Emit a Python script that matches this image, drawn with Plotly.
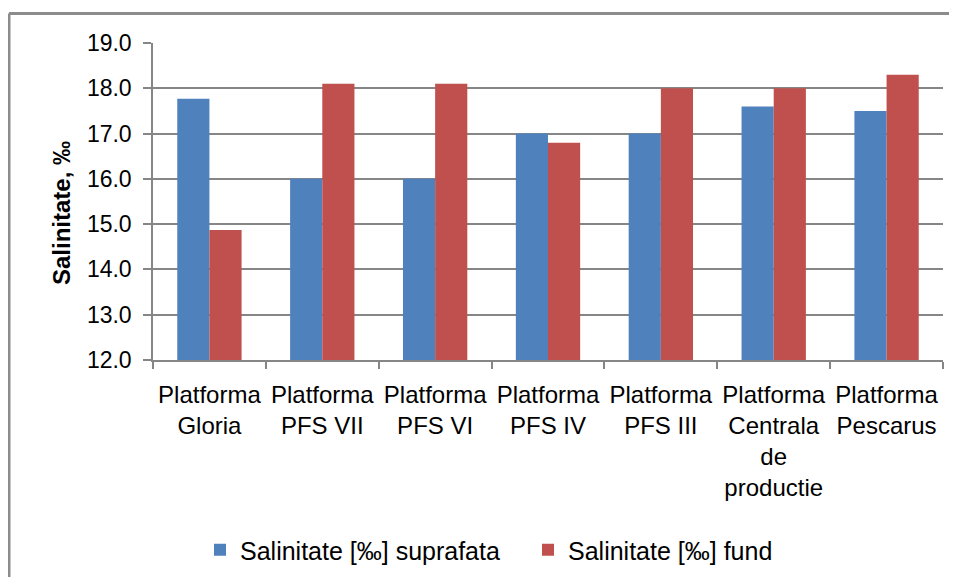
import plotly.graph_objects as go

categories = ["Platforma<br>Gloria", "Platforma<br>PFS VII", "Platforma<br>PFS VI",
              "Platforma<br>PFS IV", "Platforma<br>PFS III",
              "Platforma<br>Centrala<br>de<br>productie", "Platforma<br>Pescarus"]
suprafata = [17.77, 16.0, 16.0, 17.0, 17.0, 17.6, 17.5]
fund = [14.87, 18.1, 18.1, 16.8, 18.0, 18.0, 18.3]
series_names = ["Salinitate [‰] suprafata", "Salinitate [‰] fund"]
y_ticks = [12, 13, 14, 15, 16, 17, 18, 19]

# page has an 8px body margin; figure coords = reference coords - 8
OFF = 8
W, H = 941, 569
L, T = 153 - OFF, 43 - OFF
R = W - (943 - OFF)
B = H - (360 - OFF)
pw, ph = W - L - R, H - T - B

def px(x):
    return (x - OFF - L) / pw

def py(y):
    return (H - B - (y - OFF)) / ph

fig = go.Figure()
fig.add_trace(go.Bar(x=categories, y=suprafata, name=series_names[0],
                     marker=dict(color="#4F81BD", line=dict(width=0))))
fig.add_trace(go.Bar(x=categories, y=fund, name=series_names[1],
                     marker=dict(color="#C0504D", line=dict(width=0))))

grey = "#868686"
frame = "#8c8c8c"
fig.update_layout(
    width=W, height=H,
    margin=dict(l=L, r=R, t=T, b=B, autoexpand=False),
    paper_bgcolor="white", plot_bgcolor="white",
    barmode="group", bargap=0.43, bargroupgap=0,
    font=dict(family="Liberation Sans, Arial, sans-serif", color="black"),
    showlegend=True,
    legend=dict(orientation="h", x=px(200), y=py(550), xanchor="left", yanchor="middle",
                font=dict(size=25), entrywidth=283, entrywidthmode="pixels",
                bgcolor="rgba(0,0,0,0)"),
    xaxis=dict(type="category", showline=True, linecolor=grey, linewidth=2,
               ticks="outside", tickson="boundaries", ticklen=7, tickcolor=grey,
               tickwidth=1.5, tickfont=dict(size=24), tickangle=0, showgrid=False,
               ticklabelstandoff=12),
    yaxis=dict(range=[12, 19], tickvals=y_ticks, tickformat=".1f",
               showline=True, linecolor=grey, linewidth=1.5,
               ticks="outside", ticklen=8, tickcolor=grey, tickwidth=1.5,
               showgrid=True, gridcolor=grey, gridwidth=1.5,
               tickfont=dict(size=23), zeroline=False, ticklabelstandoff=7),
    shapes=[
        dict(type="line", xref="paper", yref="paper",
             x0=px(9), x1=px(1000), y0=py(13.5), y1=py(13.5),
             line=dict(color=frame, width=3), layer="below"),
        dict(type="line", xref="paper", yref="paper",
             x0=px(9), x1=px(9), y0=py(13.5), y1=py(620),
             line=dict(color=frame, width=3), layer="below"),
    ],
    annotations=[dict(text="<b>Salinitate, ‰</b>", xref="paper", yref="paper",
                      x=px(61.5), y=py(213.5), textangle=-90, showarrow=False,
                      font=dict(size=24), xanchor="center", yanchor="middle")],
)

fig.write_html("out.html")
